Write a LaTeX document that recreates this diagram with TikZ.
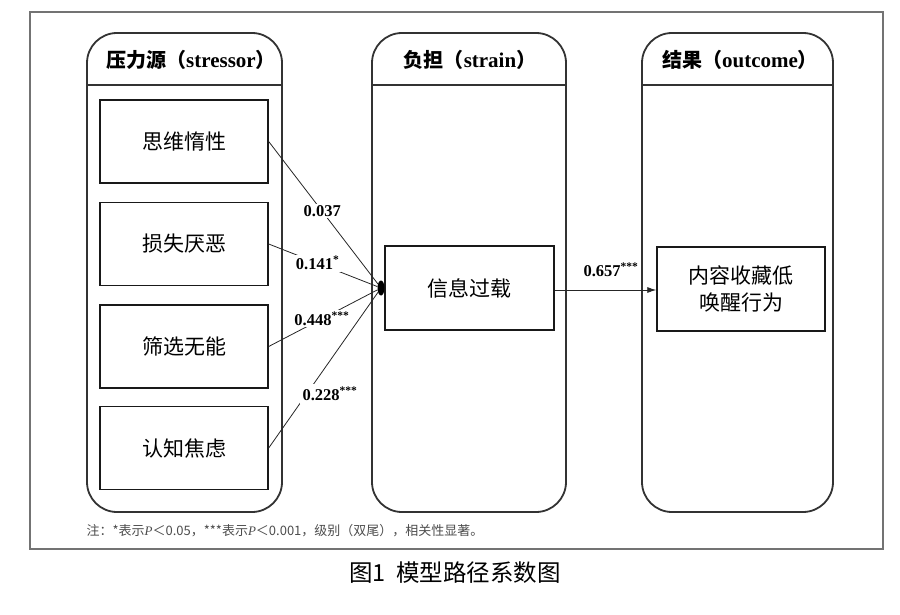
\documentclass[tikz,border=0pt]{standalone}
\usepackage{fontspec}
\setmainfont{Liberation Serif}
\newfontfamily\cjk{Noto Sans CJK SC}
\usetikzlibrary{shapes.geometric,arrows.meta}
\tikzset{
  col/.style={draw=black!80, line width=1.8pt, rounded corners=30pt, minimum width=#1, minimum height=479pt, inner sep=0pt},
  hdr/.style={font=\cjk\bfseries\fontsize{20}{23}\selectfont},
  box/.style={draw=black!90, line width=1.4pt, minimum width=168pt, minimum height=83pt, inner sep=0pt, align=center, font=\cjk\fontsize{21}{27}\selectfont},
  coef/.style={fill=white, inner sep=1.5pt, font=\bfseries\fontsize{16.5}{18}\selectfont},
  conn/.style={draw=black!85, line width=0.8pt},
}
\newcommand{\lat}[1]{{\rmfamily\bfseries\fontsize{21}{23}\selectfont #1}}
\begin{document}
\begin{tikzpicture}[x=1pt,y=-1pt]
\useasboundingbox (0,0) rectangle (900,615);
% outer frame
\draw[black!55, line width=1.3pt] (30,12) rectangle (883,549);
% columns
\node[col=195pt] (col1) at (184.5,272.5) {};
\node[col=194pt] (col2) at (469,272.5) {};
\node[col=191pt] (col3) at (737.5,272.5) {};
\draw[black!80, line width=1.6pt] (87,85) -- (282,85);
\draw[black!80, line width=1.6pt] (372,85) -- (566,85);
\draw[black!80, line width=1.6pt] (642,85) -- (833,85);
% headers
\node[hdr] (h1) at (191,60) {压力源（\lat{stressor}）};
\node[hdr] (h2) at (470,60) {负担（\lat{strain}）};
\node[hdr] (h3) at (740,60) {结果（\lat{outcome}）};
% stressor boxes
\node[box] (s1) at (184,141.5) {思维惰性};
\node[box] (s2) at (184,244) {损失厌恶};
\node[box] (s3) at (184,346.5) {筛选无能};
\node[box] (s4) at (184,448) {认知焦虑};
% strain and outcome
\node[box, minimum width=169pt, minimum height=84pt] (st) at (469.5,288) {信息过载};
\node[box, minimum height=84pt] (oc) at (741,289) {内容收藏低\\唤醒行为};
% convergence dot
\node[ellipse, fill=black, minimum width=7pt, minimum height=15pt, inner sep=0pt] (dot) at (381,288) {};
% connectors
\draw[conn] (s1.east) -- node[coef, pos=0.49] {0.037} (dot);
\draw[conn] (s2.east) -- node[coef, pos=0.45] {0.141\textsuperscript{*}} (dot);
\draw[conn] (s3.east) -- node[coef, pos=0.49] {0.448\textsuperscript{***}} (dot);
\draw[conn] (s4.east) -- (dot);
\node[coef, inner sep=3pt] (l4) at (330,394) {0.228\textsuperscript{***}};
\draw[conn, -{Latex[length=9pt,width=6pt]}] (st.east |- 0,290) -- (oc.west |- 0,290);
\node[font=\bfseries\fontsize{16.5}{18}\selectfont] (l5) at (611,270) {0.657\textsuperscript{***}};
% note
\node[anchor=west, text=black!70, font=\cjk\fontsize{13}{15}\selectfont] (note) at (83,531)
  {注：*表示{\rmfamily\itshape P}＜0.05，***表示{\rmfamily\itshape P}＜0.001，级别（双尾），相关性显著。};
% caption
\node[font=\cjk\fontsize{23.5}{27}\selectfont] (cap) at (455,573) {图1\ \ 模型路径系数图};
\end{tikzpicture}
\end{document}
